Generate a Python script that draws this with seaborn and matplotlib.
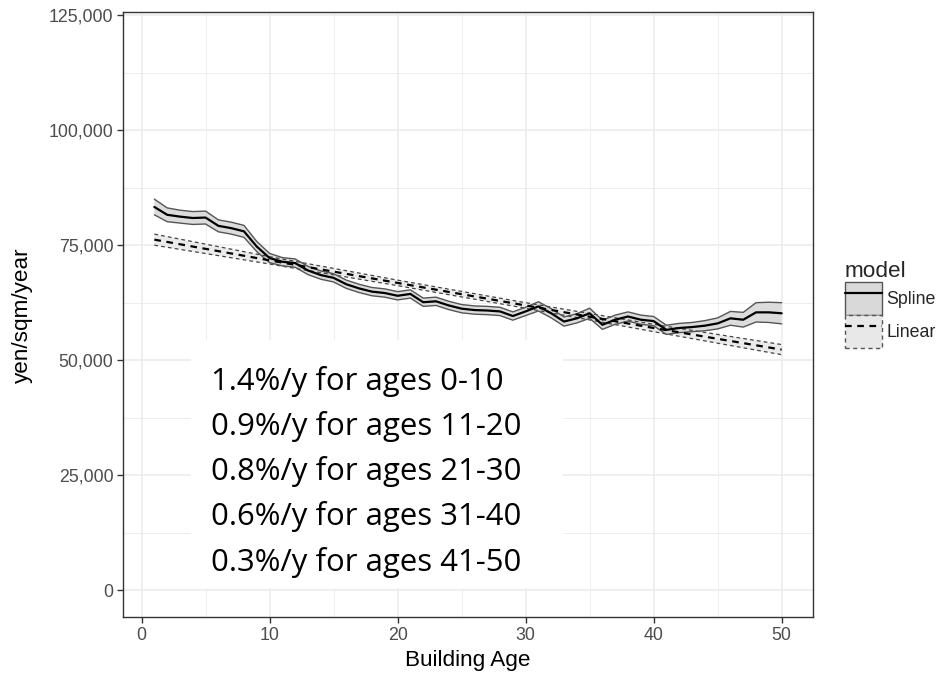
import numpy as np
import pandas as pd
import matplotlib
matplotlib.use("Agg")
import matplotlib.pyplot as plt
import seaborn as sns
from matplotlib.patches import Patch, Rectangle
from matplotlib.lines import Line2D
from matplotlib.legend_handler import HandlerTuple
from matplotlib.ticker import FuncFormatter, MultipleLocator

# ---------------- data (in thousands) ----------------
ages = list(range(1, 51))
spline_fit = [83.3, 81.6, 81.2, 80.9, 81.0, 79.2, 78.7, 78.0, 74.7, 72.2,
              71.4, 71.1, 69.5, 68.5, 67.9, 66.5, 65.6, 64.9, 64.6, 64.0,
              64.4, 62.6, 62.8, 61.9, 61.2, 60.9, 60.8, 60.6, 59.6, 60.6,
              61.7, 60.2, 58.4, 59.1, 60.2, 57.7, 58.8, 59.5, 58.8, 58.5,
              56.6, 57.0, 57.2, 57.5, 58.0, 59.1, 58.8, 60.4, 60.4, 60.2]
spline_half = [1.7, 1.5, 1.4, 1.4, 1.4, 1.3, 1.3, 1.3, 1.1, 1.0,
               0.9, 0.9, 0.9, 0.9, 0.9, 0.9, 0.9, 0.9, 0.9, 0.9,
               0.9, 0.9, 0.9, 0.9, 0.9, 0.9, 0.9, 0.9, 0.9, 0.9,
               1.0, 1.0, 1.0, 1.0, 1.1, 1.0, 1.0, 1.0, 1.0, 1.0,
               1.0, 1.0, 1.0, 1.1, 1.2, 1.5, 1.6, 2.1, 2.2, 2.3]

linear_ages = [1, 10, 20, 30, 40, 50]
linear_fit = [76.2, 71.7, 66.8, 61.9, 57.0, 52.3]
linear_half = [1.2, 0.8, 0.6, 0.6, 0.8, 1.1]

annotation_lines = ["1.4%/y for ages 0-10",
                    "0.9%/y for ages 11-20",
                    "0.8%/y for ages 21-30",
                    "0.6%/y for ages 31-40",
                    "0.3%/y for ages 41-50"]

models = ["Spline", "Linear"]

# ---------------- build tables ----------------
sp = pd.DataFrame({"age": ages,
                   "value": np.array(spline_fit) * 1000,
                   "half": np.array(spline_half) * 1000,
                   "model": "Spline"})
li = pd.DataFrame({"age": linear_ages,
                   "value": np.array(linear_fit) * 1000,
                   "half": np.array(linear_half) * 1000,
                   "model": "Linear"})

# ---------------- figure ----------------
sns.set_theme(style="white")
plt.rcParams["font.family"] = ["Liberation Sans", "DejaVu Sans"]

fig = plt.figure(figsize=(9.41, 6.76), dpi=100)
ax = fig.add_axes([0.1307, 0.0868, 0.7333, 0.895])

border = "#333333"
grid_c = "#ebebeb"
dash = (0, (3, 2.5))

# ribbons
ax.fill_between(li["age"], li["value"] - li["half"], li["value"] + li["half"],
                facecolor="#e8e8e8", edgecolor="none", zorder=2, alpha=0.85)
ax.plot(li["age"], li["value"] - li["half"], color="#444444", lw=0.9, ls=dash, zorder=3)
ax.plot(li["age"], li["value"] + li["half"], color="#444444", lw=0.9, ls=dash, zorder=3)

ax.fill_between(sp["age"], sp["value"] - sp["half"], sp["value"] + sp["half"],
                facecolor="#d9d9d9", edgecolor="none", zorder=2, alpha=0.9)
ax.plot(sp["age"], sp["value"] - sp["half"], color="#555555", lw=1.0, zorder=3)
ax.plot(sp["age"], sp["value"] + sp["half"], color="#555555", lw=1.0, zorder=3)

# fitted lines via seaborn
sns.lineplot(data=li, x="age", y="value", ax=ax, color="black", lw=1.6,
             linestyle=dash, legend=False, zorder=4)
sns.lineplot(data=sp, x="age", y="value", ax=ax, color="black", lw=1.6,
             legend=False, zorder=4)

# axes
ax.set_xlim(-1.45, 52.45)
ax.set_ylim(-5870, 125600)
ax.xaxis.set_major_locator(MultipleLocator(10))
ax.xaxis.set_minor_locator(MultipleLocator(5))
ax.yaxis.set_major_locator(MultipleLocator(25000))
ax.yaxis.set_minor_locator(MultipleLocator(12500))
ax.yaxis.set_major_formatter(FuncFormatter(lambda v, p: f"{int(v):,}"))
ax.grid(which="major", color=grid_c, lw=1.1, zorder=0)
ax.grid(which="minor", color=grid_c, lw=0.6, zorder=0)
ax.set_axisbelow(True)
for s in ax.spines.values():
    s.set_color(border)
    s.set_linewidth(1.0)
ax.tick_params(axis="both", which="major", length=4, width=1.0, color=border,
               labelsize=12.8, labelcolor="#4d4d4d", pad=3, direction="out",
               bottom=True, left=True)
ax.tick_params(axis="both", which="minor", length=0)
ax.set_xlabel("Building Age", fontsize=16.2, color="black", labelpad=4)
ax.set_ylabel("yen/sqm/year", fontsize=16.2, color="black", labelpad=11)

# legend
h_sp = (Patch(facecolor="#d9d9d9", edgecolor="#555555", lw=1.0),
        Line2D([], [], color="black", lw=1.6))
h_li = (Patch(facecolor="#e8e8e8", edgecolor="#555555", lw=1.0, ls=dash),
        Line2D([], [], color="black", lw=1.6, ls=dash))
leg = fig.legend([h_sp, h_li], models, title="model",
                 handler_map={tuple: HandlerTuple(ndivide=1, pad=0)},
                 loc="upper left", bbox_to_anchor=(0.890, 0.625),
                 frameon=False, fontsize=12.8, title_fontsize=16.2,
                 handlelength=2.1, handleheight=2.5, handletextpad=0.25,
                 labelspacing=0.0, borderaxespad=0.0, alignment="left")

# annotation box (white) and text
fig.patches.append(Rectangle((191 / 941, 1 - 588 / 676), 372 / 941, 248 / 676,
                             transform=fig.transFigure, facecolor="white",
                             edgecolor="none", zorder=5))
for i, line in enumerate(annotation_lines):
    fig.text(211 / 941, 1 - (381 + 45.3 * i) / 676, line, fontsize=22.4,
             family=["Open Sans", "DejaVu Sans"], va="center", ha="left",
             color="black", zorder=6)

fig.savefig("out.png", dpi=100)
